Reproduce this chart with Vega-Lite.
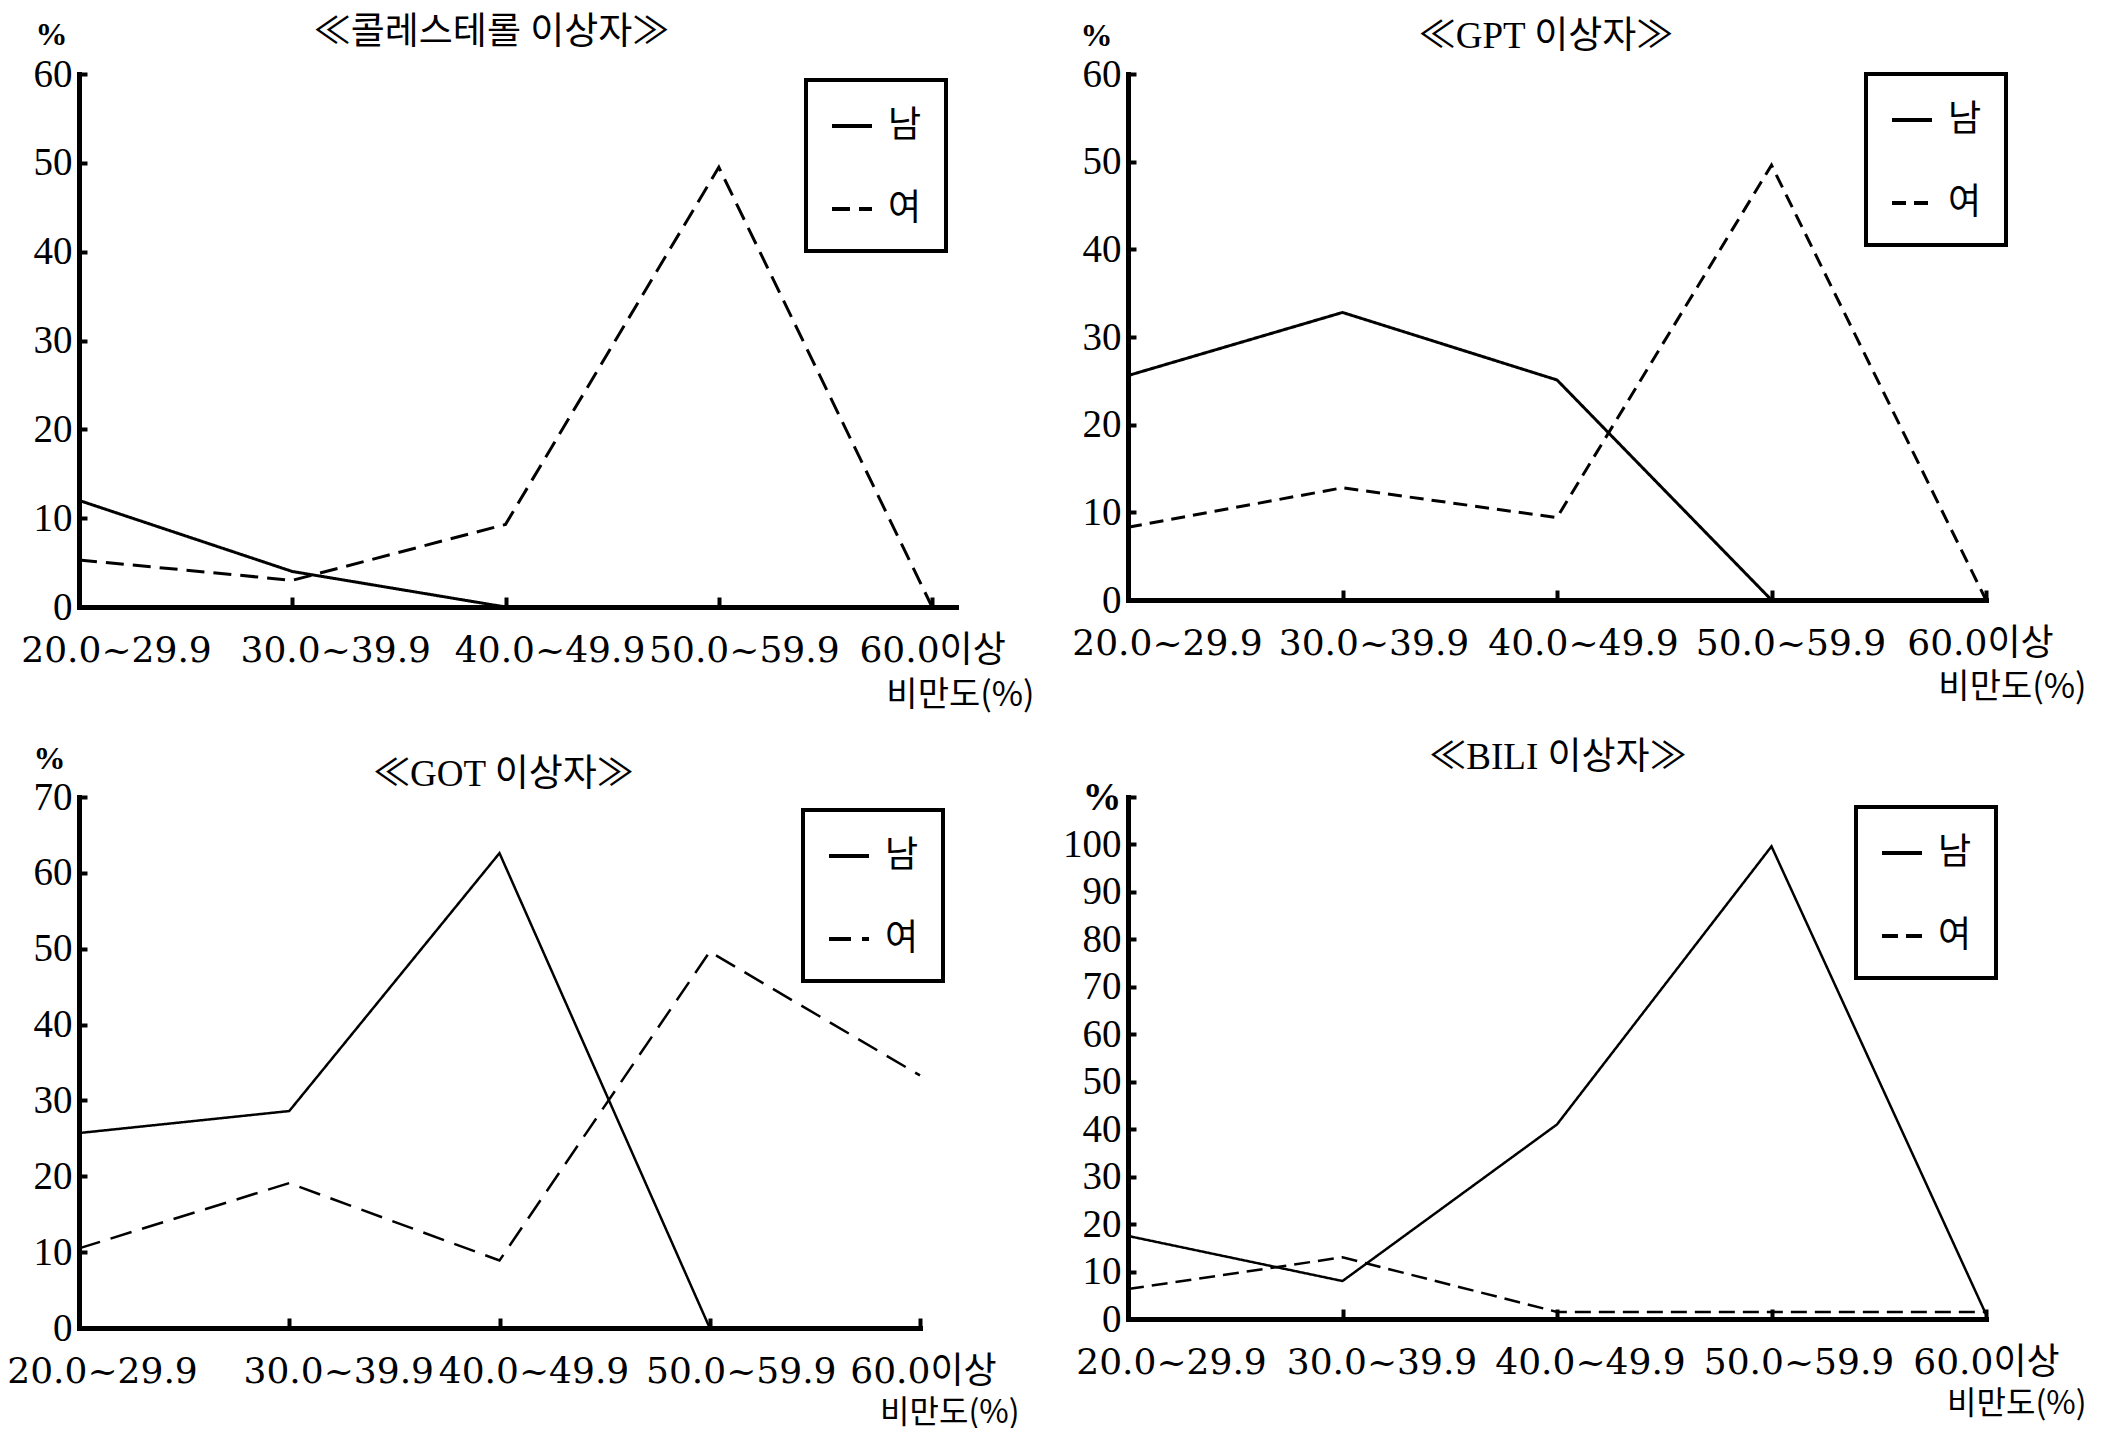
{
  "$schema": "https://vega.github.io/schema/vega-lite/v6.json",
  "background": "white",
  "padding": {"left": 6, "top": 14, "right": 5, "bottom": 0},
  "datasets": {
    "chol": [
      {"bmi": "20.0~29.9", "sex": "남", "pct": 12},
      {"bmi": "30.0~39.9", "sex": "남", "pct": 4},
      {"bmi": "40.0~49.9", "sex": "남", "pct": 0},
      {"bmi": "50.0~59.9", "sex": "남", "pct": 0},
      {"bmi": "60.0이상", "sex": "남", "pct": 0},
      {"bmi": "20.0~29.9", "sex": "여", "pct": 5.3},
      {"bmi": "30.0~39.9", "sex": "여", "pct": 3},
      {"bmi": "40.0~49.9", "sex": "여", "pct": 9.3},
      {"bmi": "50.0~59.9", "sex": "여", "pct": 49.5},
      {"bmi": "60.0이상", "sex": "여", "pct": 0}
    ],
    "gpt": [
      {"bmi": "20.0~29.9", "sex": "남", "pct": 25.6},
      {"bmi": "30.0~39.9", "sex": "남", "pct": 32.8},
      {"bmi": "40.0~49.9", "sex": "남", "pct": 25.1},
      {"bmi": "50.0~59.9", "sex": "남", "pct": 0},
      {"bmi": "60.0이상", "sex": "남", "pct": 0},
      {"bmi": "20.0~29.9", "sex": "여", "pct": 8.3},
      {"bmi": "30.0~39.9", "sex": "여", "pct": 12.8},
      {"bmi": "40.0~49.9", "sex": "여", "pct": 9.4},
      {"bmi": "50.0~59.9", "sex": "여", "pct": 49.6},
      {"bmi": "60.0이상", "sex": "여", "pct": 0}
    ],
    "got": [
      {"bmi": "20.0~29.9", "sex": "남", "pct": 25.7},
      {"bmi": "30.0~39.9", "sex": "남", "pct": 28.6},
      {"bmi": "40.0~49.9", "sex": "남", "pct": 62.6},
      {"bmi": "50.0~59.9", "sex": "남", "pct": 0},
      {"bmi": "60.0이상", "sex": "남", "pct": 0},
      {"bmi": "20.0~29.9", "sex": "여", "pct": 10.5},
      {"bmi": "30.0~39.9", "sex": "여", "pct": 19.1},
      {"bmi": "40.0~49.9", "sex": "여", "pct": 8.9},
      {"bmi": "50.0~59.9", "sex": "여", "pct": 49.6},
      {"bmi": "60.0이상", "sex": "여", "pct": 33.3}
    ],
    "bili": [
      {"bmi": "20.0~29.9", "sex": "남", "pct": 17.5},
      {"bmi": "30.0~39.9", "sex": "남", "pct": 8},
      {"bmi": "40.0~49.9", "sex": "남", "pct": 41},
      {"bmi": "50.0~59.9", "sex": "남", "pct": 99.6},
      {"bmi": "60.0이상", "sex": "남", "pct": 1},
      {"bmi": "20.0~29.9", "sex": "여", "pct": 6.3},
      {"bmi": "30.0~39.9", "sex": "여", "pct": 13},
      {"bmi": "40.0~49.9", "sex": "여", "pct": 1.5},
      {"bmi": "50.0~59.9", "sex": "여", "pct": 1.5},
      {"bmi": "60.0이상", "sex": "여", "pct": 1.5}
    ]
  },
  "columns": 2,
  "spacing": {"row": 190, "column": 172},
  "bounds": "flush",
  "concat": [
    {
      "width": 877, "height": 533,
      "title": {"text": "≪콜레스테롤 이상자≫", "frame": "group", "anchor": "middle", "baseline": "middle", "offset": -52, "dx": -26},
      "data": {"name": "chol"},
      "mark": {"type": "line", "strokeWidth": 3, "color": "black"},
      "encoding": {
        "x": {"field": "bmi", "type": "ordinal", "sort": ["20.0~29.9", "30.0~39.9", "40.0~49.9", "50.0~59.9", "60.0이상"],
              "scale": {"type": "point", "padding": 0.056, "align": 0},
              "axis": {"title": "비만도(%)", "titleX": 955, "titleY": 88,
                       "labelOffset": {"condition": [
                         {"test": "datum.value == '20.0~29.9'", "value": 37},
                         {"test": "datum.value == '30.0~39.9'", "value": 43},
                         {"test": "datum.value == '40.0~49.9'", "value": 44},
                         {"test": "datum.value == '50.0~59.9'", "value": 25}], "value": 0}}},
        "y": {"field": "pct", "type": "quantitative", "scale": {"domain": [0, 60]},
              "axis": {"values": [0, 10, 20, 30, 40, 50, 60], "title": "%", "titleX": -12, "titleY": -40}},
        "strokeDash": {"field": "sex", "type": "nominal", "scale": {"domain": ["남", "여"], "range": [[1, 0], [18, 9]]},
                       "legend": {"orient": "none", "legendX": 727, "legendY": 6}}
      }
    },
    {
      "width": 858, "height": 526,
      "title": {"text": "≪GPT 이상자≫", "frame": "group", "anchor": "middle", "baseline": "middle", "offset": -55, "dx": -11},
      "data": {"name": "gpt"},
      "mark": {"type": "line", "strokeWidth": 3, "color": "black"},
      "encoding": {
        "x": {"field": "bmi", "type": "ordinal", "sort": ["20.0~29.9", "30.0~39.9", "40.0~49.9", "50.0~59.9", "60.0이상"],
              "scale": {"type": "point", "padding": 0},
              "axis": {"title": "비만도(%)", "titleX": 958, "titleY": 87,
                       "labelOffset": {"condition": [
                         {"test": "datum.value == '20.0~29.9'", "value": 39},
                         {"test": "datum.value == '30.0~39.9'", "value": 31},
                         {"test": "datum.value == '40.0~49.9'", "value": 26},
                         {"test": "datum.value == '50.0~59.9'", "value": 19}], "value": -6}}},
        "y": {"field": "pct", "type": "quantitative", "scale": {"domain": [0, 60]},
              "axis": {"values": [0, 10, 20, 30, 40, 50, 60], "title": "%", "titleX": -16, "titleY": -39}},
        "strokeDash": {"field": "sex", "type": "nominal", "scale": {"domain": ["남", "여"], "range": [[1, 0], [14, 8]]},
                       "legend": {"orient": "none", "legendX": 738, "legendY": 0}}
      }
    },
    {
      "width": 841, "height": 531,
      "title": {"text": "≪GOT 이상자≫", "frame": "group", "anchor": "middle", "baseline": "middle", "offset": -70, "dx": 4},
      "data": {"name": "got"},
      "mark": {"type": "line", "strokeWidth": 2.5, "color": "black"},
      "encoding": {
        "x": {"field": "bmi", "type": "ordinal", "sort": ["20.0~29.9", "30.0~39.9", "40.0~49.9", "50.0~59.9", "60.0이상"],
              "scale": {"type": "point", "padding": 0},
              "axis": {"title": "비만도(%)", "titleX": 940, "titleY": 84, "titleFontSize": 32,
                       "labelOffset": {"condition": [
                         {"test": "datum.value == '20.0~29.9'", "value": 23},
                         {"test": "datum.value == '30.0~39.9'", "value": 49},
                         {"test": "datum.value == '40.0~49.9'", "value": 34},
                         {"test": "datum.value == '50.0~59.9'", "value": 31}], "value": 3}}},
        "y": {"field": "pct", "type": "quantitative", "scale": {"domain": [0, 70]},
              "axis": {"values": [0, 10, 20, 30, 40, 50, 60, 70], "title": "%", "titleX": -14, "titleY": -39}},
        "strokeDash": {"field": "sex", "type": "nominal", "scale": {"domain": ["남", "여"], "range": [[1, 0], [22, 11]]},
                       "legend": {"orient": "none", "legendX": 724, "legendY": 13}}
      }
    },
    {
      "width": 858, "height": 522,
      "title": {"text": "≪BILI 이상자≫", "frame": "group", "anchor": "middle", "baseline": "middle", "offset": -17, "dx": 1},
      "data": {"name": "bili"},
      "mark": {"type": "line", "strokeWidth": 2.5, "color": "black"},
      "encoding": {
        "x": {"field": "bmi", "type": "ordinal", "sort": ["20.0~29.9", "30.0~39.9", "40.0~49.9", "50.0~59.9", "60.0이상"],
              "scale": {"type": "point", "padding": 0},
              "axis": {"title": "비만도(%)", "titleX": 958, "titleY": 84, "titleFontSize": 32,
                       "labelOffset": {"condition": [
                         {"test": "datum.value == '20.0~29.9'", "value": 43},
                         {"test": "datum.value == '30.0~39.9'", "value": 39},
                         {"test": "datum.value == '40.0~49.9'", "value": 33},
                         {"test": "datum.value == '50.0~59.9'", "value": 27}], "value": 0}}},
        "y": {"field": "pct", "type": "quantitative", "scale": {"domain": [0, 110]},
              "axis": {"values": [0, 10, 20, 30, 40, 50, 60, 70, 80, 90, 100, 110], "title": null,
                       "labelExpr": "datum.value == 110 ? '%' : datum.label",
                       "labelFontWeight": {"condition": {"test": "datum.value == 110", "value": "bold"}, "value": "normal"}}},
        "strokeDash": {"field": "sex", "type": "nominal", "scale": {"domain": ["남", "여"], "range": [[1, 0], [16, 8]]},
                       "legend": {"orient": "none", "legendX": 728, "legendY": 10}}
      }
    }
  ],
  "resolve": {
    "scale": {"x": "independent", "y": "independent", "strokeDash": "independent"},
    "legend": {"strokeDash": "independent"}
  },
  "config": {
    "view": {"stroke": null},
    "title": {"font": "Liberation Serif, Noto Sans CJK KR", "fontSize": 37, "fontWeight": "normal", "color": "black"},
    "axis": {
      "domainColor": "black", "domainWidth": 5, "domainCap": "square",
      "tickColor": "black", "tickWidth": 4,
      "labelColor": "black", "titleColor": "black", "grid": false,
      "labelFont": "Liberation Serif, Noto Sans CJK KR"
    },
    "axisX": {
      "labelFont": "DejaVu Serif, Noto Sans CJK KR", "labelLimit": 0,
      "labelFontSize": 36, "labelAngle": 0, "tickSize": -10, "labelPadding": 53, "labelBaseline": "middle",
      "titleFont": "Noto Sans CJK KR", "titleFontSize": 34, "titleFontWeight": "normal",
      "titleAlign": "right", "titleBaseline": "middle", "titleAngle": 0
    },
    "axisY": {
      "labelFontSize": 39, "tickSize": -8, "labelPadding": 15,
      "titleFont": "Liberation Serif", "titleFontSize": 32, "titleFontWeight": "bold",
      "titleAngle": 0, "titleAlign": "right", "titleBaseline": "middle"
    },
    "legend": {
      "title": null, "strokeColor": "black", "strokeWidth": 4, "padding": 24,
      "symbolType": "stroke", "symbolSize": 1600, "symbolStrokeWidth": 4, "symbolStrokeColor": "black",
      "labelFontSize": 36, "labelFont": "Noto Sans CJK KR", "labelColor": "black",
      "rowPadding": 43, "labelOffset": 14
    }
  }
}
